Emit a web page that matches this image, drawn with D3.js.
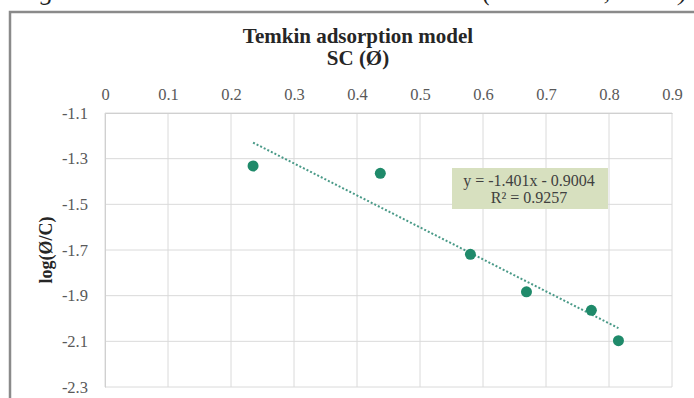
<!DOCTYPE html>
<html>
<head>
<meta charset="utf-8">
<script src="https://cdn.jsdelivr.net/npm/d3@7"></script>
<style>
  html, body { margin: 0; padding: 0; background: #fff; }
  svg { display: block; }
  svg text { font-family: "Liberation Serif", "Times New Roman", serif !important; }
</style>
</head>
<body>
<svg id="chart" width="694" height="398"></svg>
<script>
// ---- data ----
const xValues = [0.235, 0.437, 0.580, 0.669, 0.772, 0.815];
const yValues = [-1.332, -1.364, -1.719, -1.883, -1.964, -2.097];
const xTicks = [0, 0.1, 0.2, 0.3, 0.4, 0.5, 0.6, 0.7, 0.8, 0.9];
const yTicks = [-1.1, -1.3, -1.5, -1.7, -1.9, -2.1, -2.3];
const trendSlope = -1.401;
const trendIntercept = -0.9004;
const titleLines = ["Temkin adsorption model", "SC (Ø)"];
const yAxisTitle = "log(Ø/C)";
const equationLines = ["y = -1.401x - 0.9004", "R² = 0.9257"];
const captionFragments = [{t: "g", x: 47}, {t: "(", x: 487}, {t: ",", x: 607}, {t: ")", x: 683}];

// ---- layout ----
const svg = d3.select("#chart");
const plot = {left: 105, right: 672, top: 113, bottom: 387};

const x = d3.scaleLinear().domain([0, 0.9]).range([plot.left, plot.right]);
const y = d3.scaleLinear().domain([-1.1, -2.3]).range([plot.top, plot.bottom]);

// caption fragments from the page text above (cut off by the picture edge)
svg.append("g").selectAll("text").data(captionFragments).join("text")
  .attr("x", d => d.x).attr("y", 0)
  .attr("font-size", 26).attr("font-style", "italic")
  .attr("fill", "#222").attr("text-anchor", "middle")
  .text(d => d.t);

// chart area border
svg.append("rect")
  .attr("x", 10).attr("y", 12).attr("width", 720).attr("height", 420)
  .attr("fill", "#fff").attr("stroke", "#8a8a8a").attr("stroke-width", 2.5);

// gridlines
const grid = svg.append("g");
grid.selectAll("line.v").data(xTicks).join("line")
  .attr("class", "v")
  .attr("x1", d => x(d)).attr("x2", d => x(d))
  .attr("y1", plot.top).attr("y2", plot.bottom)
  .attr("stroke", "#dadada").attr("stroke-width", 1);
grid.selectAll("line.h").data(yTicks).join("line")
  .attr("class", "h")
  .attr("x1", plot.left).attr("x2", plot.right)
  .attr("y1", d => y(d)).attr("y2", d => y(d))
  .attr("stroke", "#dadada").attr("stroke-width", 1);

// axes (labels)
const xAxis = d3.axisTop(x).tickValues(xTicks).tickSize(0).tickPadding(13)
  .tickFormat(d => String(+d.toFixed(1)));
const gx = svg.append("g").attr("transform", `translate(0,${plot.top})`).call(xAxis);
gx.attr("font-family", null);
gx.select(".domain").attr("stroke", "#d0d0d0");
gx.selectAll("text").attr("font-size", 16.5).attr("fill", "#595959");

const yAxis = d3.axisLeft(y).tickValues(yTicks).tickSize(0).tickPadding(17)
  .tickFormat(d => d.toFixed(1));
const gy = svg.append("g").attr("transform", `translate(${plot.left},0)`).call(yAxis);
gy.attr("font-family", null);
gy.select(".domain").attr("stroke", "#d0d0d0");
gy.selectAll("text").attr("font-size", 16.5).attr("fill", "#595959");

// title
svg.append("text").attr("x", 358).attr("y", 43).attr("text-anchor", "middle")
  .attr("font-size", 21).attr("font-weight", "bold").attr("fill", "#262626")
  .text(titleLines[0]);
svg.append("text").attr("x", 358).attr("y", 65).attr("text-anchor", "middle")
  .attr("font-size", 21).attr("font-weight", "bold").attr("fill", "#262626")
  .text(titleLines[1]);

// y axis title
svg.append("text")
  .attr("transform", `translate(52,250) rotate(-90)`)
  .attr("text-anchor", "middle")
  .attr("font-size", 18).attr("font-weight", "bold").attr("fill", "#262626")
  .text(yAxisTitle);

// trendline
const xMin = d3.min(xValues), xMax = d3.max(xValues);
svg.append("line")
  .attr("x1", x(xMin)).attr("y1", y(trendSlope * xMin + trendIntercept))
  .attr("x2", x(xMax)).attr("y2", y(trendSlope * xMax + trendIntercept))
  .attr("stroke", "#4a9a88").attr("stroke-width", 2)
  .attr("stroke-dasharray", "2 2");

// points
svg.append("g").selectAll("circle").data(xValues).join("circle")
  .attr("cx", (d) => x(d)).attr("cy", (d, i) => y(yValues[i]))
  .attr("r", 5.5).attr("fill", "#1f8a6a");

// equation label
const eq = svg.append("g");
eq.append("rect").attr("x", 452).attr("y", 168).attr("width", 156).attr("height", 41)
  .attr("fill", "#d7e0bf");
eq.selectAll("text").data(equationLines).join("text")
  .attr("x", 529).attr("y", (d, i) => 186 + i * 17)
  .attr("text-anchor", "middle").attr("font-size", 16).attr("fill", "#404040")
  .text(d => d);
</script>
</body>
</html>
